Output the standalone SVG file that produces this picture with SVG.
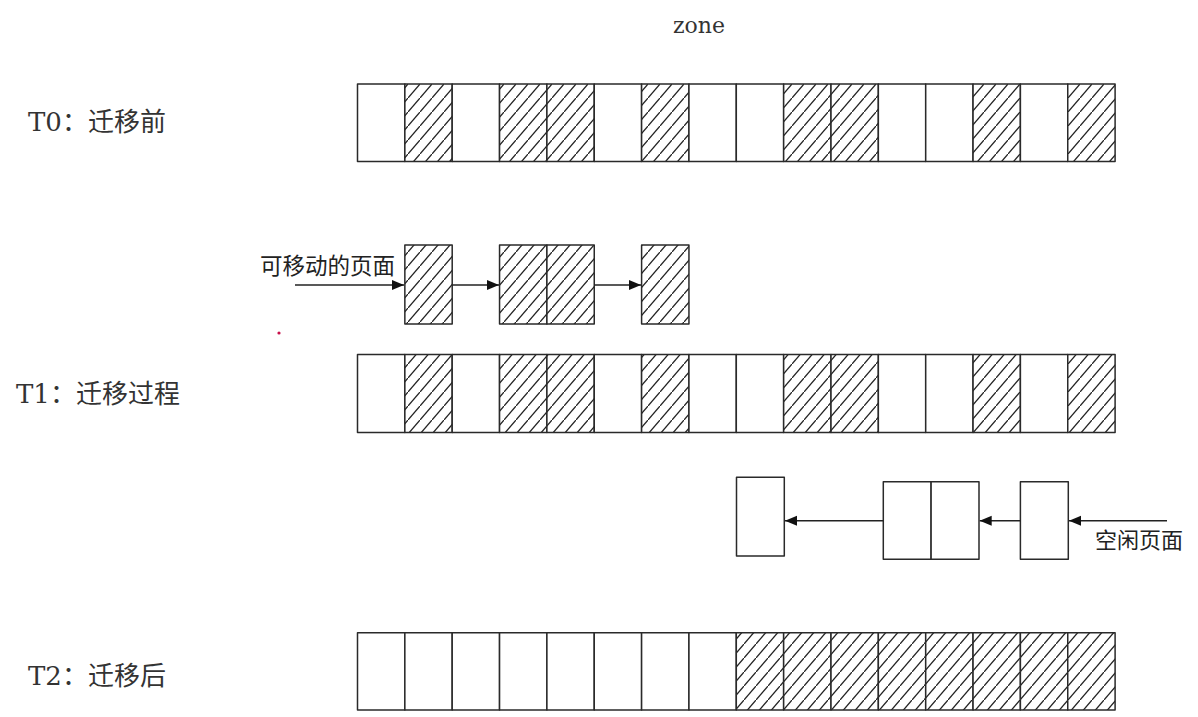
<svg xmlns="http://www.w3.org/2000/svg" width="1198" height="717" viewBox="0 0 1198 717">
<style>
.cell{fill:#fff;stroke:#2a2a2a;stroke-width:1.5;stroke-linejoin:round}
.hat{fill:url(#hatch);stroke:#2a2a2a;stroke-width:1.5;stroke-linejoin:round}
.lbl{font-family:"DejaVu Serif","Noto Sans CJK SC",serif;font-size:26px;fill:#333}
.cn{font-family:"Noto Sans CJK SC",sans-serif;font-size:22.5px;fill:#222}
.ttl{font-family:"DejaVu Serif",serif;font-size:22px;fill:#333}
.con{stroke:#222;stroke-width:1.5;fill:none}
</style>
<defs>
<pattern id="hatch" patternUnits="userSpaceOnUse" width="12" height="14">
<rect width="12" height="14" fill="#fff"/>
<path d="M-1.2,15.4 L13.2,-1.4" stroke="#222" stroke-width="1.3"/>
</pattern>
<marker id="ah" markerUnits="userSpaceOnUse" markerWidth="14" markerHeight="12" refX="12" refY="5" orient="auto">
<path d="M0,0 L12,5 L0,10 Z" fill="#111"/>
</marker>
</defs>
<rect width="1198" height="717" fill="#fff"/>
<text class="ttl" x="673" y="33">zone</text>
<text class="lbl" x="28" y="131">T0：迁移前</text>
<text class="lbl" x="16" y="403">T1：迁移过程</text>
<text class="lbl" x="28" y="685">T2：迁移后</text>

<g id="bar-t0">
<rect class="cell" x="357.5" y="84" width="47.35" height="77.5"/>
<rect class="hat" x="404.85" y="84" width="47.35" height="77.5"/>
<rect class="cell" x="452.2" y="84" width="47.35" height="77.5"/>
<rect class="hat" x="499.55" y="84" width="47.35" height="77.5"/>
<rect class="hat" x="546.9" y="84" width="47.35" height="77.5"/>
<rect class="cell" x="594.25" y="84" width="47.35" height="77.5"/>
<rect class="hat" x="641.6" y="84" width="47.35" height="77.5"/>
<rect class="cell" x="688.95" y="84" width="47.35" height="77.5"/>
<rect class="cell" x="736.3" y="84" width="47.35" height="77.5"/>
<rect class="hat" x="783.65" y="84" width="47.35" height="77.5"/>
<rect class="hat" x="831" y="84" width="47.35" height="77.5"/>
<rect class="cell" x="878.35" y="84" width="47.35" height="77.5"/>
<rect class="cell" x="925.7" y="84" width="47.35" height="77.5"/>
<rect class="hat" x="973.05" y="84" width="47.35" height="77.5"/>
<rect class="cell" x="1020.4" y="84" width="47.35" height="77.5"/>
<rect class="hat" x="1067.75" y="84" width="47.35" height="77.5"/>
</g>

<g id="movable-1"><rect class="hat" x="404.85" y="245" width="47.35" height="79"/></g>
<g id="movable-2"><rect class="hat" x="499.55" y="245" width="47.35" height="79"/><rect class="hat" x="546.9" y="245" width="47.35" height="79"/></g>
<g id="movable-3"><rect class="hat" x="641.6" y="245" width="47.35" height="79"/></g>
<text class="cn" x="260" y="274">可移动的页面</text>

<g id="bar-t1">
<rect class="cell" x="357.5" y="354.5" width="47.35" height="78"/>
<rect class="hat" x="404.85" y="354.5" width="47.35" height="78"/>
<rect class="cell" x="452.2" y="354.5" width="47.35" height="78"/>
<rect class="hat" x="499.55" y="354.5" width="47.35" height="78"/>
<rect class="hat" x="546.9" y="354.5" width="47.35" height="78"/>
<rect class="cell" x="594.25" y="354.5" width="47.35" height="78"/>
<rect class="hat" x="641.6" y="354.5" width="47.35" height="78"/>
<rect class="cell" x="688.95" y="354.5" width="47.35" height="78"/>
<rect class="cell" x="736.3" y="354.5" width="47.35" height="78"/>
<rect class="hat" x="783.65" y="354.5" width="47.35" height="78"/>
<rect class="hat" x="831" y="354.5" width="47.35" height="78"/>
<rect class="cell" x="878.35" y="354.5" width="47.35" height="78"/>
<rect class="cell" x="925.7" y="354.5" width="47.35" height="78"/>
<rect class="hat" x="973.05" y="354.5" width="47.35" height="78"/>
<rect class="cell" x="1020.4" y="354.5" width="47.35" height="78"/>
<rect class="hat" x="1067.75" y="354.5" width="47.35" height="78"/>
</g>

<g id="free-1"><rect class="cell" x="736.5" y="477.3" width="47.8" height="78.7"/></g>
<g id="free-2"><rect class="cell" x="883.3" y="481.7" width="47.8" height="77.6"/><rect class="cell" x="931.1" y="481.7" width="47.9" height="77.6"/></g>
<g id="free-3"><rect class="cell" x="1020.4" y="481.7" width="47.9" height="77.6"/></g>
<text class="cn" x="1095" y="548" style="font-size:22px">空闲页面</text>

<g id="bar-t2">
<rect class="cell" x="357.5" y="632.7" width="47.35" height="77.3"/>
<rect class="cell" x="404.85" y="632.7" width="47.35" height="77.3"/>
<rect class="cell" x="452.2" y="632.7" width="47.35" height="77.3"/>
<rect class="cell" x="499.55" y="632.7" width="47.35" height="77.3"/>
<rect class="cell" x="546.9" y="632.7" width="47.35" height="77.3"/>
<rect class="cell" x="594.25" y="632.7" width="47.35" height="77.3"/>
<rect class="cell" x="641.6" y="632.7" width="47.35" height="77.3"/>
<rect class="cell" x="688.95" y="632.7" width="47.35" height="77.3"/>
<rect class="hat" x="736.3" y="632.7" width="47.35" height="77.3"/>
<rect class="hat" x="783.65" y="632.7" width="47.35" height="77.3"/>
<rect class="hat" x="831" y="632.7" width="47.35" height="77.3"/>
<rect class="hat" x="878.35" y="632.7" width="47.35" height="77.3"/>
<rect class="hat" x="925.7" y="632.7" width="47.35" height="77.3"/>
<rect class="hat" x="973.05" y="632.7" width="47.35" height="77.3"/>
<rect class="hat" x="1020.4" y="632.7" width="47.35" height="77.3"/>
<rect class="hat" x="1067.75" y="632.7" width="47.35" height="77.3"/>
</g>

<g id="connectors">
<line class="con" x1="295" y1="285" x2="404" y2="285" marker-end="url(#ah)"/>
<line class="con" x1="452.2" y1="285" x2="499" y2="285" marker-end="url(#ah)"/>
<line class="con" x1="594.2" y1="285" x2="641" y2="285" marker-end="url(#ah)"/>
<line class="con" x1="883.3" y1="520.7" x2="785" y2="520.7" marker-end="url(#ah)"/>
<line class="con" x1="1020.4" y1="520.7" x2="979.7" y2="520.7" marker-end="url(#ah)"/>
<line class="con" x1="1167" y1="520.7" x2="1069" y2="520.7" marker-end="url(#ah)"/>
</g>
<circle cx="279" cy="333" r="1.6" fill="#c8104a"/>
</svg>
